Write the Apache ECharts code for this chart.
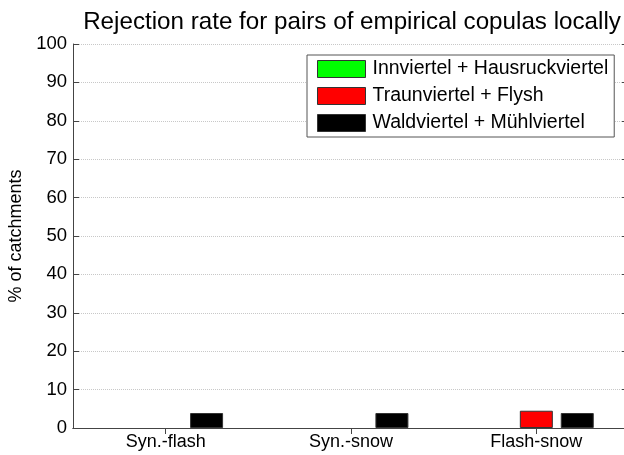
<!DOCTYPE html>
<html>
<head>
<meta charset="utf-8">
<script src="https://cdn.jsdelivr.net/npm/echarts@6/dist/echarts.min.js"></script>
<style>
  html, body { margin: 0; padding: 0; background: #fff; }
  #chart { width: 624px; height: 455px; }
</style>
</head>
<body>
<div id="chart"></div>
<script>
var categories = ['Syn.-flash', 'Syn.-snow', 'Flash-snow'];
var seriesNames = ['Innviertel + Hausruckviertel', 'Traunviertel + Flysh', 'Waldviertel + Mühlviertel'];
var innHausruck = [0, 0, 0];
var traunFlysh = [0, 0, 4.5];
var waldMuehl = [3.9, 3.9, 3.9];
var yTicks = [0, 10, 20, 30, 40, 50, 60, 70, 80, 90, 100];

var COLORS = ['#00ff00', '#ff0000', '#000000'];
var FONT = 'Liberation Sans, Arial, sans-serif';

var myChart = echarts.init(document.getElementById('chart'));

var values = [innHausruck, traunFlysh, waldMuehl];
var series = [];
for (var i = 0; i < values.length; i++) {
  // zero bars get no outline, like the original figure
  var data = values[i].map(function (v) {
    return { value: v, itemStyle: { borderWidth: v > 0 ? 1 : 0 } };
  });
  series.push({
    name: seriesNames[i],
    type: 'bar',
    data: data,
    barWidth: 33,
    barGap: '24%',
    itemStyle: { color: COLORS[i], borderColor: '#333', borderWidth: 1 }
  });
}

var option = {
  animation: false,
  backgroundColor: '#fff',
  title: {
    text: 'Rejection rate for pairs of empirical copulas locally',
    left: 347,
    textAlign: 'center',
    top: 5,
    textStyle: { fontFamily: FONT, fontSize: 24.2, fontWeight: 'normal', color: '#000' }
  },
  legend: {
    orient: 'vertical',
    left: 307,
    top: 55,
    itemWidth: 48,
    itemHeight: 17,
    itemGap: 7,
    padding: [4, 6, 4, 10],
    borderColor: '#555',
    borderWidth: 1,
    backgroundColor: '#fff',
    icon: 'rect',
    itemStyle: { borderColor: '#333', borderWidth: 1 },
    textStyle: { fontFamily: FONT, fontSize: 19.5, lineHeight: 17, color: '#000', padding: [0, 0, 0, 2] },
    data: seriesNames
  },
  grid: { left: 73, top: 44, width: 556, bottom: 27, outerBoundsMode: 'none' },
  xAxis: [{
    type: 'category',
    data: categories,
    position: 'bottom',
    axisLine: { lineStyle: { color: '#444', width: 1 } },
    axisTick: { inside: true, alignWithLabel: true, length: 6, lineStyle: { color: '#444' } },
    axisLabel: { fontFamily: FONT, fontSize: 18, color: '#000', margin: 5 }
  }, {
    type: 'category',
    data: categories,
    position: 'top',
    axisLine: { show: true, lineStyle: { color: '#444', width: 1 } },
    axisTick: { show: true, inside: true, alignWithLabel: true, length: 6, lineStyle: { color: '#444' } },
    axisLabel: { show: false }
  }],
  yAxis: [{
    type: 'value',
    min: 0,
    max: 100,
    interval: 10,
    name: '% of catchments',
    nameLocation: 'middle',
    nameGap: 46,
    nameTextStyle: { fontFamily: FONT, fontSize: 18, color: '#000' },
    axisLine: { show: true, lineStyle: { color: '#444', width: 1 } },
    axisTick: { show: true, inside: true, length: 6, lineStyle: { color: '#444' } },
    axisLabel: {
      fontFamily: FONT, fontSize: 18.5, color: '#000', margin: 6,
      formatter: function (v) { return yTicks.indexOf(v) >= 0 ? String(v) : ''; }
    },
    splitLine: { show: true, lineStyle: { color: '#c8c8c8', type: 'dotted', width: 1 } }
  }, {
    type: 'value',
    min: 0,
    max: 100,
    interval: 10,
    position: 'right',
    axisLine: { show: true, lineStyle: { color: '#444', width: 1 } },
    axisTick: { show: true, inside: true, length: 7, lineStyle: { color: '#444' } },
    axisLabel: { show: false },
    splitLine: { show: false }
  }],
  series: series
};

myChart.setOption(option);
</script>
</body>
</html>
